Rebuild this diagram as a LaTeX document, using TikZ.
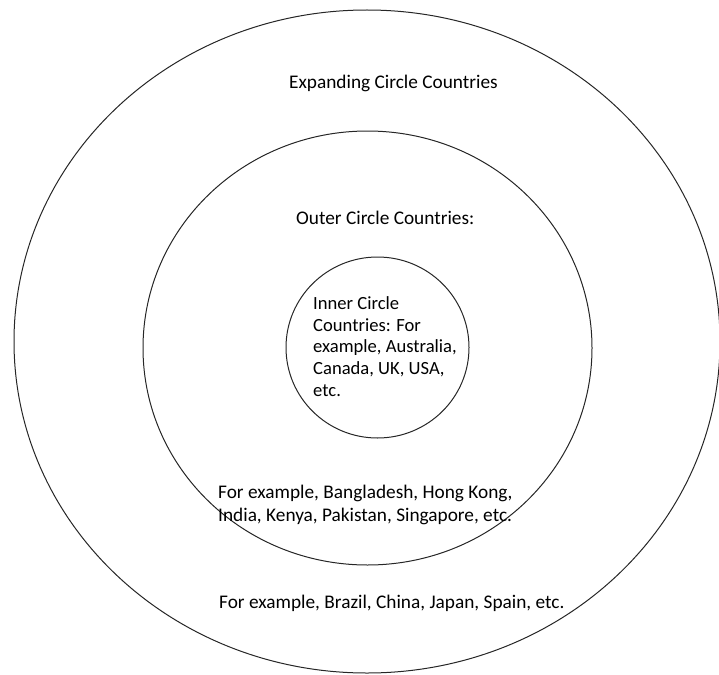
\documentclass[tikz,border=0pt]{standalone}
\usepackage{fontspec}
\setmainfont{Carlito}
\usetikzlibrary{shapes.geometric}
\begin{document}
\begin{tikzpicture}[x=1pt,y=-1pt,
  ring/.style={draw=black!85, line width=1pt, ellipse, inner sep=0pt},
  label/.style={anchor=west, inner sep=0pt, align=left,
    font=\fontsize{19.3}{23}\selectfont, text=black},
  small label/.style={label, font=\fontsize{18.6}{21.7}\selectfont}]
  \useasboundingbox (0,0) rectangle (719,674);
  % three nested circles
  \node[ring, minimum width=706pt, minimum height=663pt] (expanding) at (367,341.5) {};
  \node[ring, minimum width=449pt, minimum height=434pt] (outer) at (367.5,348) {};
  \node[ring, minimum width=183pt, minimum height=181pt] (inner) at (377.5,347.5) {};
  % labels
  \node[label] (expT) at (289,83) {Expanding Circle Countries};
  \node[label] (outT) at (296,218) {Outer Circle Countries:};
  \node[small label] (innT) at (313,346.5) {Inner Circle\\Countries: For\\example, Australia,\\Canada, UK, USA,\\etc.};
  \node[label] (outEx) at (218,504.5) {For example, Bangladesh, Hong Kong,\\India, Kenya, Pakistan, Singapore, etc.};
  \node[label] (expEx) at (219,603) {For example, Brazil, China, Japan, Spain, etc.};
\end{tikzpicture}
\end{document}
